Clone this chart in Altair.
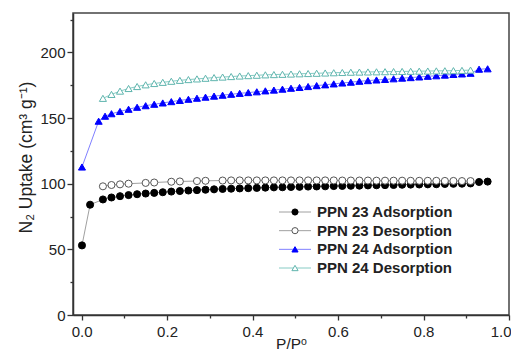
import altair as alt
import pandas as pd

series_names = ["PPN 23 Adsorption", "PPN 23 Desorption", "PPN 24 Adsorption", "PPN 24 Desorption"]

ppn23_ads_x = [0.001, 0.02, 0.05, 0.07, 0.09, 0.11, 0.13, 0.15, 0.17, 0.19, 0.21, 0.23, 0.25, 0.27, 0.29,
               0.31, 0.33, 0.35, 0.37, 0.39, 0.41, 0.43, 0.45, 0.47, 0.49, 0.51, 0.53, 0.55, 0.57, 0.59,
               0.61, 0.63, 0.65, 0.67, 0.69, 0.71, 0.73, 0.75, 0.77, 0.79, 0.81, 0.83, 0.85, 0.87, 0.89,
               0.91, 0.93, 0.95]
ppn23_ads_y = [53, 84, 88, 89.5, 90.5, 91.3, 92, 92.5, 93, 93.5, 94, 94.4, 94.8, 95.1, 95.4,
               95.7, 96, 96.2, 96.4, 96.6, 96.8, 97, 97.2, 97.3, 97.5, 97.6, 97.8, 97.9, 98, 98.2,
               98.3, 98.4, 98.5, 98.7, 98.8, 98.9, 99.0, 99.2, 99.3, 99.4, 99.5, 99.6, 99.8, 99.9, 100.0,
               100.2, 101.3, 101.6]

ppn23_des_x = [0.05, 0.07, 0.09, 0.11, 0.15, 0.17, 0.21, 0.23, 0.27, 0.29,
               0.33, 0.35, 0.37, 0.39, 0.41, 0.43, 0.45, 0.47, 0.49, 0.51, 0.53, 0.55, 0.57, 0.59,
               0.61, 0.63, 0.65, 0.67, 0.69, 0.71, 0.73, 0.75, 0.77, 0.79, 0.81, 0.83, 0.85, 0.87, 0.89, 0.91]
ppn23_des_y = [98, 99, 99.5, 100, 100.6, 100.9, 101.5, 101.7, 102, 102.2,
               102.4, 102.5, 102.5, 102.5, 102.5, 102.5, 102.5, 102.5, 102.5, 102.5, 102.5, 102.5, 102.5, 102.5,
               102.4, 102.4, 102.4, 102.4, 102.3, 102.3, 102.3, 102.3, 102.2, 102.2, 102.2, 102.2, 102.1, 102.1, 102.0, 102.0]

ppn24_ads_x = [0.001, 0.04, 0.055, 0.07, 0.09, 0.11, 0.13, 0.15, 0.17, 0.19, 0.21, 0.23, 0.25, 0.27, 0.29,
               0.31, 0.33, 0.35, 0.37, 0.39, 0.41, 0.43, 0.45, 0.47, 0.49, 0.51, 0.53, 0.55, 0.57, 0.59,
               0.61, 0.63, 0.65, 0.67, 0.69, 0.71, 0.73, 0.75, 0.77, 0.79, 0.81, 0.83, 0.85, 0.87, 0.89,
               0.91, 0.93, 0.95]
ppn24_ads_y = [112.7, 147.6, 151.4, 153.3, 155, 156.7, 158.2, 159.4, 160.5, 161.5, 162.5, 163.4, 164.3, 165.1, 165.9,
               166.7, 167.4, 168.1, 168.8, 169.4, 170.0, 170.7, 171.3, 172.0, 172.7, 173.3, 174.0, 174.7, 175.3, 176.0,
               176.7, 177.3, 178.0, 178.5, 179.0, 179.4, 179.9, 180.4, 180.8, 181.3, 181.8, 182.2, 182.7, 183.2, 183.6,
               184.1, 187.2, 187.5]

ppn24_des_x = [0.05, 0.07, 0.09, 0.11, 0.13, 0.15, 0.17, 0.19, 0.21, 0.23, 0.25, 0.27, 0.29,
               0.31, 0.33, 0.35, 0.37, 0.39, 0.41, 0.43, 0.45, 0.47, 0.49, 0.51, 0.53, 0.55, 0.57, 0.59,
               0.61, 0.63, 0.65, 0.67, 0.69, 0.71, 0.73, 0.75, 0.77, 0.79, 0.81, 0.83, 0.85, 0.87, 0.89, 0.91]
ppn24_des_y = [165, 168, 170.5, 172.5, 174, 175.3, 176.3, 177.2, 178, 178.7, 179.3, 179.8, 180.3,
               180.8, 181.2, 181.6, 182.0, 182.3, 182.6, 182.9, 183.1, 183.3, 183.5, 183.7, 183.9, 184.1, 184.3, 184.5,
               184.7, 184.9, 185.0, 185.1, 185.2, 185.3, 185.4, 185.5, 185.6, 185.7, 185.8, 185.9, 186.0, 186.1, 186.3, 186.5]

x_major = [0.0, 0.2, 0.4, 0.6, 0.8, 1.0]
x_minor = [0.1, 0.3, 0.5, 0.7, 0.9]
y_major = [0, 50, 100, 150, 200]
y_minor = [25, 75, 125, 175, 225]

rows = []
for name, xs, ys in zip(series_names,
                        [ppn23_ads_x, ppn23_des_x, ppn24_ads_x, ppn24_des_x],
                        [ppn23_ads_y, ppn23_des_y, ppn24_ads_y, ppn24_des_y]):
    for i, (xv, yv) in enumerate(zip(xs, ys)):
        rows.append({"series": name, "p": xv, "uptake": yv, "idx": i})
df = pd.DataFrame(rows)
legend_df = pd.DataFrame({"series": series_names})

FONT = "Liberation Sans"
shape_scale = alt.Scale(domain=series_names, range=["circle", "circle", "triangle-up", "triangle-up"])
fill_scale = alt.Scale(domain=series_names, range=["#000000", "#ffffff", "#0000ff", "#ffffff"])
stroke_scale = alt.Scale(domain=series_names, range=["#000000", "#555555", "#0000ff", "#5fb5ae"])
line_scale = alt.Scale(domain=series_names, range=["#a0a0a0", "#a0a0a0", "#8080ff", "#86cbc4"])

xscale = alt.Scale(domain=[-0.02, 1.0], nice=False, zero=False)
yscale = alt.Scale(domain=[0, 230], nice=False, zero=False)

axis_common = dict(grid=False, domainColor="#333333", tickColor="#333333", labelColor="#222222",
                   labelFont=FONT, titleFont=FONT, labelFontSize=15,
                   titleColor="#222222", titleFontWeight="normal", domainWidth=1.5, tickWidth=1.3)

x_main = alt.X("p:Q", scale=xscale, axis=alt.Axis(values=x_major, format=".1f", title="P/Pᵒ", orient="bottom",
                                                  tickSize=5, labelPadding=4, titleY=33, titleFontSize=15.5,
                                                  titleBaseline="alphabetic", labelFlush=True, labelFlushOffset=2,
                                                  **axis_common))
y_main = alt.Y("uptake:Q", scale=yscale, axis=alt.Axis(values=y_major, format="d", title="N₂ Uptake (cm³ g⁻¹)",
                                                       orient="left", tickSize=6, labelPadding=2, titlePadding=4,
                                                       titleFontSize=17.5, titleY=144, **axis_common))

lines = alt.Chart(df).mark_line(strokeWidth=1).encode(
    x=x_main, y=y_main,
    color=alt.Color("series:N", scale=line_scale, legend=None),
    detail="series:N",
    order="idx:Q",
)

points = alt.Chart(df).mark_point(filled=True, size=50, strokeWidth=1, opacity=1).encode(
    x=alt.X("p:Q", scale=xscale, axis=None),
    y=alt.Y("uptake:Q", scale=yscale, axis=None),
    shape=alt.Shape("series:N", scale=shape_scale, legend=None),
    fill=alt.Fill("series:N", scale=fill_scale, legend=None),
    stroke=alt.Stroke("series:N", scale=stroke_scale, legend=None),
)

minor = alt.Chart(df).mark_point(opacity=0).encode(
    x=alt.X("p:Q", scale=xscale, axis=alt.Axis(values=x_minor, labels=False, title=None, domain=False,
                                                 orient="bottom", tickSize=3, tickColor="#333333",
                                                 tickWidth=1.3, grid=False)),
    y=alt.Y("uptake:Q", scale=yscale, axis=alt.Axis(values=y_minor, labels=False, title=None, domain=False,
                                                     orient="left", tickSize=3, tickColor="#333333",
                                                     tickWidth=1.3, grid=False)),
)

main = alt.layer(lines, points, minor).resolve_axis(x="independent", y="independent")

leg_y = alt.Y("series:N", scale=alt.Scale(type="point", domain=series_names, range=[199, 255], padding=0), axis=None)

leg_lines = alt.Chart(legend_df).mark_rule(strokeWidth=1).encode(
    x=alt.value(206), x2=alt.value(238), y=leg_y,
    color=alt.Color("series:N", scale=line_scale, legend=None),
)
leg_pts = alt.Chart(legend_df).mark_point(filled=True, size=38, strokeWidth=1, opacity=1).encode(
    x=alt.value(222), y=leg_y,
    shape=alt.Shape("series:N", scale=shape_scale, legend=None),
    fill=alt.Fill("series:N", scale=fill_scale, legend=None),
    stroke=alt.Stroke("series:N", scale=stroke_scale, legend=None),
)
leg_text = alt.Chart(legend_df).mark_text(align="left", baseline="middle", font=FONT, fontSize=15,
                                          fontWeight="bold", color="#222222").encode(
    x=alt.value(244), y=leg_y, text="series:N",
)
legend = alt.layer(leg_lines, leg_pts, leg_text)

chart = alt.layer(main, legend).resolve_scale(y="independent").properties(
    width=436, height=302,
    autosize=alt.AutoSizeParams(type="none"),
    padding={"left": 65, "top": 5, "right": 2, "bottom": 35},
).configure_view(stroke="#444444", strokeWidth=1.5)

chart.save("out.html", embed_options={"renderer": "svg", "actions": False})
